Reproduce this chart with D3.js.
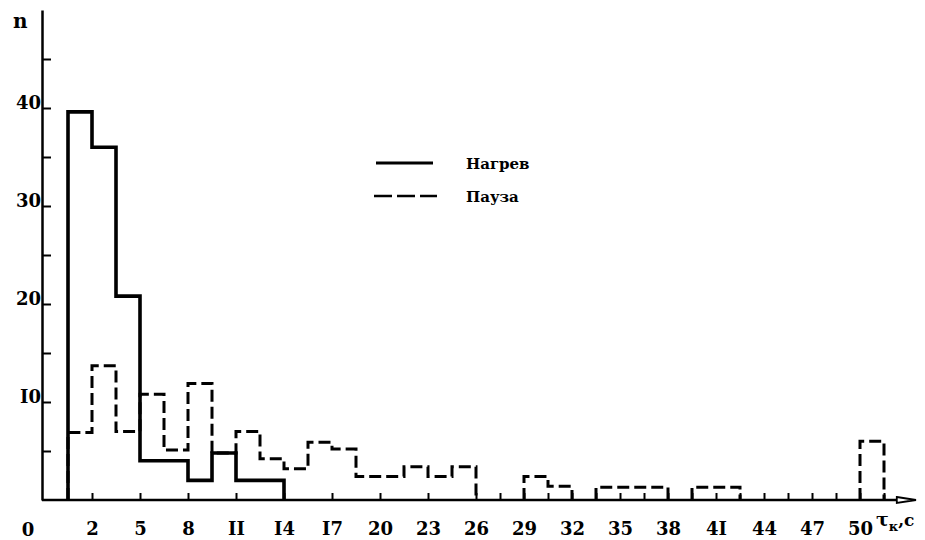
<!DOCTYPE html>
<html>
<head>
<meta charset="utf-8">
<script src="https://cdn.jsdelivr.net/npm/d3@7"></script>
<style>
html,body{margin:0;padding:0;background:#fff;}
svg{display:block;}
text{font-family:"DejaVu Serif","Liberation Serif",serif;font-weight:bold;fill:#000;}
</style>
</head>
<body>
<svg id="chart" width="925" height="540"></svg>
<script>
// ---- data ----
const binStart = 0.5;          // left edge of first bin, s
const binWidth = 1.5;          // bin width, s
const heatingCounts = [39.6, 36, 20.8, 4, 4, 2, 4.8, 2, 2];            // Нагрев
const pauseCounts = [6.9, 13.7, 7, 10.8, 5.1, 11.9, 4.8, 7, 4.2, 3.2, 5.9, 5.2,
  2.4, 2.4, 3.4, 2.4, 3.4, 0, 0, 2.4, 1.4, 0, 1.3, 1.3, 1.3, 0, 1.3, 1.3,
  0, 0, 0, 0, 0, 6];                                                     // Пауза
const xTickValues = [2, 5, 8, 11, 14, 17, 20, 23, 26, 29, 32, 35, 38, 41, 44, 47, 50];
const xTickLabels = ["2", "5", "8", "II", "I4", "I7", "20", "23", "26", "29", "32", "35", "38", "4I", "44", "47", "50"];
const xMinorTicks = [27.5, 30.5, 33.5, 36.5, 39.5, 42.5, 45.5, 48.5, 51.5];
const yTickValues = [5, 10, 15, 20, 25, 30, 35, 40, 45];
const yTickLabels = {10: "I0", 20: "20", 30: "30", 40: "40"};
const legendLabels = ["Нагрев", "Пауза"];

// ---- scales ----
const svg = d3.select("#chart");
const x = d3.scaleLinear().domain([-1.125, 53.5]).range([42, 916]);
const y = d3.scaleLinear().domain([0, 50]).range([500, 10]);

// ---- axes ----
const yAxis = d3.axisLeft(y)
  .tickValues(yTickValues)
  .tickFormat(d => yTickLabels[d] || "")
  .tickSizeInner(-9).tickSizeOuter(0).tickPadding(1);
const gy = svg.append("g").attr("transform", `translate(${x(-1.125)},0)`).call(yAxis);
gy.select(".domain").attr("stroke", "#000").attr("stroke-width", 2.5);
gy.selectAll(".tick line").attr("stroke", "#000").attr("stroke-width", 2);
gy.selectAll(".tick text").attr("font-size", 18).attr("dy", "0.05em")
  .style("font-family", '"DejaVu Serif",serif').style("font-weight", "bold");

const xAxis = d3.axisBottom(x)
  .tickValues(xTickValues)
  .tickFormat((d, i) => xTickLabels[i])
  .tickSizeInner(-7).tickSizeOuter(0).tickPadding(22);
const gx = svg.append("g").attr("transform", `translate(0,${y(0)})`).call(xAxis);
gx.select(".domain").attr("stroke", "#000").attr("stroke-width", 2.5)
  .attr("d", `M${x(-1.125)},0H${x(52.3)}`);
gx.selectAll(".tick line").attr("stroke", "#000").attr("stroke-width", 2);
gx.selectAll(".tick text").attr("font-size", 18)
  .style("font-family", '"DejaVu Serif",serif').style("font-weight", "bold");

const xMinorAxis = d3.axisBottom(x).tickValues(xMinorTicks).tickFormat("")
  .tickSizeInner(-7).tickSizeOuter(0);
const gxm = svg.append("g").attr("transform", `translate(0,${y(0)})`).call(xMinorAxis);
gxm.select(".domain").remove();
gxm.selectAll(".tick line").attr("stroke", "#000").attr("stroke-width", 2);

// arrow head
svg.append("path")
  .attr("d", `M${x(52.3)},${y(0) - 3}L${x(53.5)},${y(0)}L${x(52.3)},${y(0) + 3}Z`)
  .attr("fill", "#fff").attr("stroke", "#000").attr("stroke-width", 1.8);

// ---- histograms ----
function stepPath(counts) {
  let p = `M${x(binStart)},${y(0)}`;
  counts.forEach((c, i) => {
    const xr = x(binStart + (i + 1) * binWidth);
    if (c > 0) p += `V${y(c)}H${xr}`;
    else p += `V${y(0)}M${xr},${y(0)}`;
  });
  p += `V${y(0)}`;
  return p;
}
svg.append("path").attr("d", stepPath(pauseCounts))
  .attr("fill", "none").attr("stroke", "#000").attr("stroke-width", 3)
  .attr("stroke-dasharray", "12,5");
svg.append("path").attr("d", stepPath(heatingCounts))
  .attr("fill", "none").attr("stroke", "#000").attr("stroke-width", 3.6);

// ---- legend ----
const leg = svg.append("g");
leg.append("line").attr("x1", 376).attr("x2", 433).attr("y1", 163).attr("y2", 163)
  .attr("stroke", "#000").attr("stroke-width", 3);
leg.append("line").attr("x1", 374).attr("x2", 437).attr("y1", 196).attr("y2", 196)
  .attr("stroke", "#000").attr("stroke-width", 2.5).attr("stroke-dasharray", "18,5");
leg.append("text").attr("x", 466).attr("y", 169).attr("font-size", 15).text(legendLabels[0]);
leg.append("text").attr("x", 466).attr("y", 202).attr("font-size", 15).text(legendLabels[1]);

// ---- axis titles ----
svg.append("text").attr("x", 13).attr("y", 28).attr("font-size", 20).text("n");
svg.append("text").attr("x", 28).attr("y", 536).attr("font-size", 18)
  .attr("text-anchor", "middle").text("0");
const t = svg.append("text").attr("x", 876).attr("y", 526).attr("font-size", 19);
t.append("tspan").text("τ");
t.append("tspan").attr("font-size", 13).attr("dy", 5).text("к");
t.append("tspan").attr("font-size", 17).attr("dy", -5).text(",с");
</script>
</body>
</html>
